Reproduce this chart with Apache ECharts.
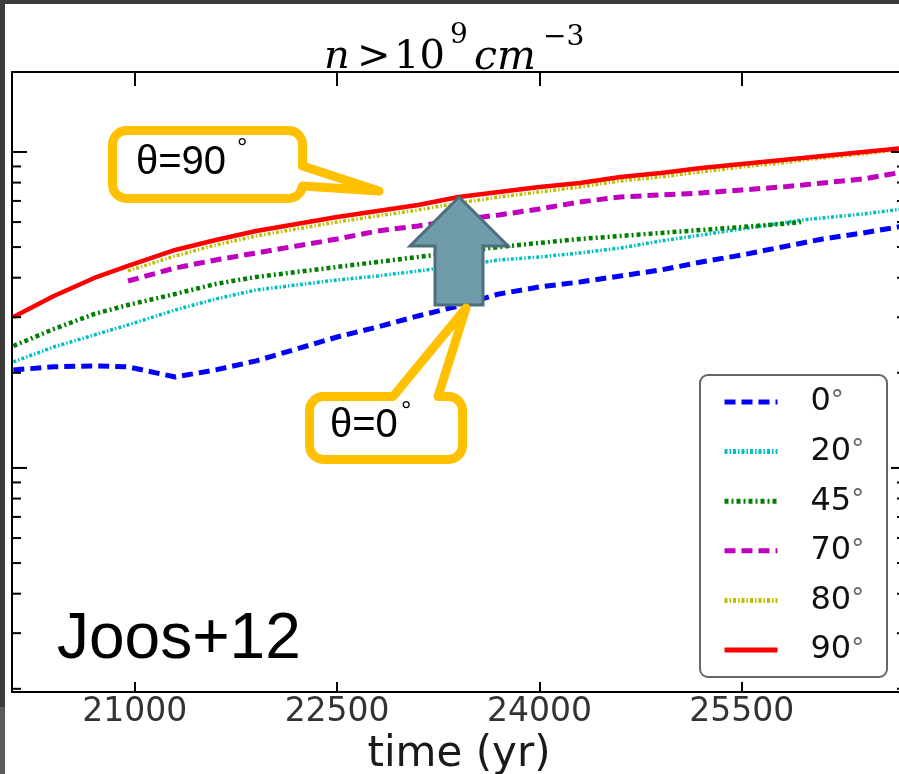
<!DOCTYPE html>
<html>
<head>
<meta charset="utf-8">
<script src="https://cdn.jsdelivr.net/npm/echarts@6/dist/echarts.min.js"></script>
<style>
  html, body { margin: 0; padding: 0; background: #fff; }
  #chart { width: 899px; height: 774px; }
</style>
</head>
<body>
<div id="chart"></div>
<script>
// ---- data ----
const years = [20100, 20400, 20700, 20950, 21300, 21600, 21900, 22200, 22500, 22800, 23100, 23400,
               23700, 24000, 24300, 24600, 24900, 25200, 25500, 25800, 25950, 26100, 26400, 26700];
const theta0  = [0.02043, 0.02089, 0.02104, 0.02089, 0.01941, 0.02043, 0.02182, 0.02380, 0.02597, 0.02794, 0.03027, 0.03256,
                 0.03553, 0.03739, 0.03878, 0.04051, 0.04232, 0.04486, 0.04721, 0.05005, 0.05153, 0.05305, 0.05542, 0.05833];
const theta20 = [0.02166, 0.02415, 0.02635, 0.02835, 0.03162, 0.03426, 0.03658, 0.03794, 0.03935, 0.04051, 0.04202, 0.04358,
                 0.04552, 0.04653, 0.04790, 0.04968, 0.05228, 0.05462, 0.05707, 0.05962, 0.06093, 0.06183, 0.06366, 0.06602];
const theta45 = [0.02432, 0.02753, 0.03071, 0.03280, 0.03553, 0.03822, 0.04022, 0.04171, 0.04326, 0.04486, 0.04653, 0.04826,
                 0.05005, 0.05153, 0.05305, 0.05422, 0.05542, 0.05665, 0.05790, 0.05918, 0.06005, null, null, null];
const theta70 = [null, null, null, 0.03906, 0.04294, 0.04552, 0.04790, 0.05041, 0.05305, 0.05623, 0.05833, 0.06093,
                 0.06320, 0.06602, 0.06947, 0.07205, 0.07311, 0.07418, 0.07582, 0.07750, 0.07863, 0.07979, 0.08215, 0.08645];
const theta80 = [null, null, null, 0.04202, 0.04687, 0.05078, 0.05422, 0.05707, 0.06005, 0.06274, 0.06554, 0.06897,
                 0.07205, 0.07473, 0.07750, 0.08096, 0.08336, 0.08645, 0.08966, 0.09231, 0.09434, 0.09572, 0.09855, 0.10221];
const theta90 = [0.03005, 0.03502, 0.03993, 0.04358, 0.04896, 0.05267, 0.05623, 0.05918, 0.06228, 0.06506, 0.06797, 0.07205,
                 0.07473, 0.07750, 0.07979, 0.08336, 0.08582, 0.08901, 0.09164, 0.09434, 0.09572, 0.09713, 0.10000, 0.10296];
const seriesNames = ['0°', '20°', '45°', '70°', '80°', '90°'];
const xTickValues = [21000, 22500, 24000, 25500];
const yMajorTicks = [0.01, 0.1];
const yMinorTicks = [0.002, 0.003, 0.004, 0.005, 0.006, 0.007, 0.008, 0.009,
                     0.02, 0.03, 0.04, 0.05, 0.06, 0.07, 0.08, 0.09];
const X_MIN = 20090, X_MAX = 26717;
const Y_MIN = 0.001954, Y_MAX = 0.1791;

// ---- styles ----
const seriesValues = [theta0, theta20, theta45, theta70, theta80, theta90];
const seriesColors = ['#0000FF', '#00BFBF', '#008000', '#BF00BF', '#BFBF00', '#FF0000'];
const seriesDash = [[11, 6], [3, 2, 1.5, 2], [4, 3, 2, 3], [11, 6], [3, 2, 1.5, 2], 'solid'];
const seriesWidth = [5, 3.5, 4.5, 5, 3.5, 4.5];

const chart = echarts.init(document.getElementById('chart'), null, { renderer: 'canvas' });

const lineSeries = seriesNames.map((name, k) => ({
  name: name,
  type: 'line',
  xAxisIndex: 0,
  yAxisIndex: 0,
  symbol: 'none',
  showSymbol: false,
  animation: false,
  z: 3 + k,
  color: seriesColors[k],
  lineStyle: { color: seriesColors[k], width: seriesWidth[k], type: seriesDash[k], cap: 'butt' },
  data: years.map((t, i) => [t, seriesValues[k][i]]).filter(p => p[1] != null)
}));

const tickData = yMinorTicks.map(v => [X_MIN, v, 0]).concat(yMajorTicks.map(v => [X_MIN, v, 1]));

const tickSeries = {
  type: 'custom',
  silent: true,
  animation: false,
  clip: false,
  z: 20,
  data: tickData,
  renderItem: function (params, api) {
    const y = api.coord([api.value(0), api.value(1)])[1];
    const len = api.value(2) === 1 ? 15 : 9;
    const cs = params.coordSys;
    const st = { stroke: '#000', lineWidth: 2 };
    return {
      type: 'group',
      children: [
        { type: 'line', shape: { x1: cs.x, y1: y, x2: cs.x + len, y2: y }, style: st },
        { type: 'line', shape: { x1: cs.x + cs.width, y1: y, x2: cs.x + cs.width - len, y2: y }, style: st }
      ]
    };
  }
};

const orange = '#FFC000';
const option = {
  animation: false,
  backgroundColor: '#fff',
  grid: {
    left: 12, right: -7, top: 72, bottom: 82,
    show: true, borderColor: '#000', borderWidth: 2, backgroundColor: 'transparent',
    containLabel: false, outerBoundsMode: 'none'
  },
  xAxis: [{
    type: 'value', position: 'bottom', min: X_MIN, max: X_MAX,
    axisLine: { show: false }, splitLine: { show: false },
    axisTick: { show: true, inside: true, length: 10, lineStyle: { color: '#000', width: 2 }, customValues: xTickValues },
    axisLabel: { show: true, customValues: xTickValues, fontSize: 33, fontFamily: 'DejaVu Sans', color: '#333', margin: 4,
                 formatter: function (v) { return String(v); } },
    name: 'time (yr)', nameLocation: 'middle', nameGap: 31,
    nameTextStyle: { fontSize: 42, fontFamily: 'DejaVu Sans', color: '#1a1a1a' }
  }, {
    type: 'value', position: 'top', min: X_MIN, max: X_MAX,
    axisLine: { show: false }, splitLine: { show: false },
    axisTick: { show: true, inside: true, length: 14, lineStyle: { color: '#000', width: 2 }, customValues: xTickValues },
    axisLabel: { show: false }
  }],
  yAxis: [{
    type: 'log', logBase: 10, min: Y_MIN, max: Y_MAX,
    axisLine: { show: false }, axisTick: { show: false }, axisLabel: { show: false }, splitLine: { show: false }, minorTick: { show: false }
  }],
  legend: {
    orient: 'vertical',
    left: 722, top: 386,
    padding: 0,
    itemWidth: 53, itemHeight: 14, itemGap: 17.6,
    z: 30,
    data: seriesNames,
    itemStyle: { color: 'rgba(0,0,0,0)', borderColor: 'rgba(0,0,0,0)', borderWidth: 0, opacity: 0 },
    lineStyle: { width: 5 },
    formatter: function (name) { return '{n|' + name.replace('°', '') + '}{d|°}'; },
    textStyle: {
      fontSize: 32, lineHeight: 32, fontFamily: 'DejaVu Sans', color: '#111',
      rich: {
        n: { fontSize: 32, lineHeight: 32, fontFamily: 'DejaVu Sans', color: '#111', padding: [0, 0, 0, 28] },
        d: { fontSize: 26, lineHeight: 32, fontFamily: 'DejaVu Sans', color: '#666' }
      }
    }
  },
  graphic: [
    // screenshot border
    { type: 'rect', z: 200, silent: true, shape: { x: 0, y: 0, width: 899, height: 4 }, style: { fill: '#3b3b3b' } },
    { type: 'rect', z: 200, silent: true, shape: { x: 0, y: 0, width: 5, height: 707 }, style: { fill: '#3b3b3b' } },
    { type: 'rect', z: 200, silent: true, shape: { x: 0, y: 707, width: 5, height: 67 }, style: { fill: '#5a5a5a' } },
    // title  n >10^9 cm^-3
    { type: 'text', z: 50, x: 324, y: 38, style: { text: 'n', font: 'italic 40px "DejaVu Serif"', fill: '#000' } },
    { type: 'text', z: 50, x: 357, y: 38, style: { text: '>', font: '40px "DejaVu Serif"', fill: '#000' } },
    { type: 'text', z: 50, x: 394, y: 38, style: { text: '10', font: '40px "DejaVu Serif"', fill: '#000' } },
    { type: 'text', z: 50, x: 450, y: 22, style: { text: '9', font: '28px "DejaVu Serif"', fill: '#000' } },
    { type: 'text', z: 50, x: 474, y: 38, style: { text: 'cm', font: 'italic 41px "DejaVu Serif"', fill: '#000' } },
    { type: 'text', z: 50, x: 543, y: 24, style: { text: '−3', font: '28px "DejaVu Serif"', fill: '#000' } },
    // legend frame
    { type: 'rect', z: 25, silent: true, shape: { x: 700, y: 375, width: 187, height: 302, r: 8 },
      style: { fill: '#fff', stroke: '#666', lineWidth: 2 } },
    // Joos+12
    { type: 'text', z: 50, x: 57, y: 608, style: { text: 'Joos+12', font: '64px "Liberation Sans"', fill: '#000' } },
    // callout theta = 90
    { type: 'rect', z: 60, silent: true, shape: { x: 112.5, y: 130.5, width: 190, height: 68, r: 14 },
      style: { fill: '#fff', stroke: orange, lineWidth: 9 } },
    { type: 'polygon', z: 61, silent: true,
      shape: { points: [[296, 166], [302.5, 166], [379, 191], [302.5, 186], [296, 186]] },
      style: { fill: '#fff' } },
    { type: 'polyline', z: 61, silent: true,
      shape: { points: [[302.5, 166], [379, 191], [302.5, 186]] },
      style: { fill: null, stroke: orange, lineWidth: 9, lineJoin: 'round', lineCap: 'round' } },
    { type: 'text', z: 62, x: 136, y: 143, style: { text: 'θ=90', font: '40px "Liberation Sans"', fill: '#000' } },
    { type: 'text', z: 62, x: 237, y: 136, style: { text: '°', font: '26px "Liberation Sans"', fill: '#000' } },
    // arrow
    { type: 'polygon', z: 63, silent: true,
      shape: { points: [[459, 197], [508, 246], [483, 246], [483, 305], [435, 305], [435, 246], [410, 246]] },
      style: { fill: '#6F9BAB', stroke: '#4E6E7B', lineWidth: 3, lineJoin: 'miter' } },
    // callout theta = 0
    { type: 'rect', z: 64, silent: true, shape: { x: 309.5, y: 396.5, width: 153, height: 63, r: 14 },
      style: { fill: '#fff', stroke: orange, lineWidth: 9 } },
    { type: 'polygon', z: 65, silent: true,
      shape: { points: [[393, 402], [393, 396.5], [466, 308], [438, 396.5], [438, 402]] },
      style: { fill: '#fff' } },
    { type: 'polyline', z: 65, silent: true,
      shape: { points: [[393, 396.5], [466, 308], [438, 396.5]] },
      style: { fill: null, stroke: orange, lineWidth: 9, lineJoin: 'round', lineCap: 'round' } },
    { type: 'text', z: 66, x: 330, y: 406, style: { text: 'θ=0', font: '40px "Liberation Sans"', fill: '#000' } },
    { type: 'text', z: 66, x: 401, y: 399, style: { text: '°', font: '26px "Liberation Sans"', fill: '#000' } }
  ],
  series: lineSeries.concat([tickSeries])
};

chart.setOption(option);
</script>
</body>
</html>
